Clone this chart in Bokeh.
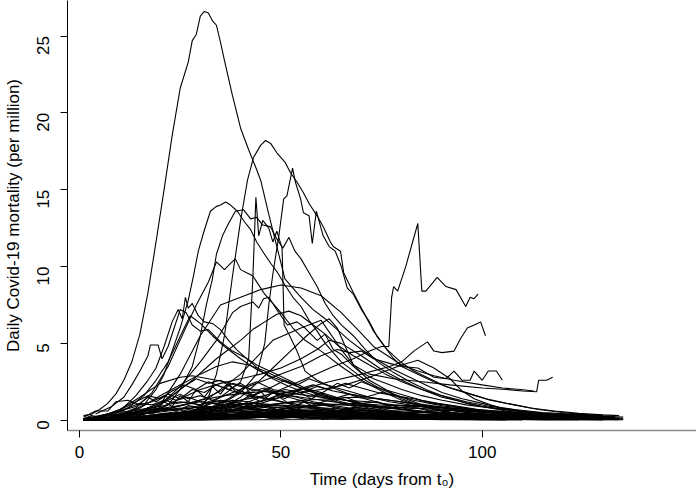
import math
from bokeh.plotting import figure
from bokeh.models import FixedTicker, Range1d, ColumnDataSource
from bokeh.embed import file_html
from bokeh.resources import INLINE

# ---- data: each series is (day, daily deaths per million) ----
curve_a = [(1,0.3),(3,0.4),(5,0.7),(7,1.1),(9,1.7),(11,2.6),(13,3.8),(15,5.6),(17,8.3),(19,11.6),(21,15.0),(23,18.5),(25,21.6),(27,23.3),(28,24.7),(29,25.1),(30,26.3),(31,26.6),(32,26.5),(33,26.0),(34,25.7),(35,24.6),(36,23.4),(38,21.1),(40,19.0),(42,17.6),(44,16.3),(45,15.6),(47,13.4),(49,11.3),(51,9.2),(53,8.6),(55,8.0),(58,7.2),(61,6.6),(64,5.9),(67,5.2),(70,4.6),(74,3.9),(78,3.3),(82,2.8),(86,2.3),(90,1.8),(95,1.4),(100,1.1),(105,0.8),(110,0.6),(116,0.4)]
curve_b = [(30,0.8),(32,1.5),(34,3.0),(36,5.5),(38,9.4),(40,13.0),(41.7,15.6),(43.2,17.1),(45,17.9),(46.2,18.2),(47.5,18.0),(49,17.4),(51,16.8),(52.4,16.1),(54,15.5),(55.6,14.8),(57,14.1),(59,13.3),(60.5,12.6),(62.3,11.6),(63,11.3),(64.8,11.0),(65.6,9.6),(68,8.3),(70.6,7.0),(73,5.8),(76.4,4.6),(79.7,3.8),(83,3.2),(87,2.7),(91,2.2),(96,1.8),(101,1.4),(106,1.1),(112,0.8),(118,0.6),(124,0.45),(130,0.35),(134,0.3)]
curve_c = [(20,0.1),(25,0.3),(30,0.6),(35,1.0),(40,1.8),(44,3.0),(46,5.0),(47,7.5),(48,9.5),(49.5,12.0),(50.7,14.4),(51.5,14.6),(52.9,16.4),(53.6,15.5),(54.9,14.4),(55.6,13.5),(57,13.3),(57.8,11.5),(58.8,13.6),(60.5,12.0),(62,11.3),(63.5,11.0),(65,10.0),(66.5,8.6),(68,8.2),(70,7.2),(72,6.4),(74,5.4),(76,4.7),(78,4.0),(80,3.5),(84,3.0),(88,2.5),(92,2.1),(97,1.7),(102,1.3),(108,1.0),(114,0.7),(120,0.5),(126,0.35)]
curve_d = [(12,0.5),(16,1.0),(19,2.0),(21,3.0),(23,4.5),(25,6.0),(27,7.8),(28.3,9.4),(29.5,11.0),(30.8,12.2),(32.5,13.6),(33.9,13.9),(35,14.0),(36.3,14.2),(37.5,14.0),(39.2,13.6),(41,12.9),(42.5,12.4),(44,11.6),(45.7,10.9),(47.5,10.2),(49.2,9.6),(51,8.8),(53,8.0),(55,7.4),(57,6.5),(59,5.8),(61,5.0),(63,4.4),(65,3.8),(68,3.2),(71,2.6),(75,2.0),(80,1.5),(85,1.0),(90,0.6),(95,0.35),(100,0.2)]
curve_e = [(18,0.5),(22,1.0),(25,2.0),(28,3.5),(30,5.5),(31.5,7.5),(33,9.2),(34,10.8),(35.5,12.0),(37,12.8),(38.7,13.6),(40.7,13.7),(42.5,13.1),(44,13.2),(45.5,12.7),(47.4,12.6),(49,11.8),(50.5,11.2),(52,11.9),(53.5,11.0),(55,10.5),(57,9.6),(59,8.7),(61,7.6),(63,6.8),(65,6.2),(68,5.5),(71,4.6),(74,3.8),(78,3.1),(82,2.5),(86,2.0),(91,1.5),(96,1.1),(102,0.8),(108,0.5),(115,0.3)]
curve_f = [(25,0.3),(30,0.8),(35,1.5),(40,2.5),(42,4.0),(43,9.0),(43.8,14.5),(44.5,12.0),(45.5,13.0),(47,12.5),(48,11.6),(49,12.3),(50.3,11.2),(50.8,6.2),(52,5.6),(54,4.5),(56,3.2),(59,2.6),(63,2.1),(68,1.6),(75,1.1),(82,0.7),(90,0.4),(98,0.2)]
curve_g = [(20,0.1),(30,0.4),(40,1.0),(50,2.0),(57,2.8),(63,3.5),(68,4.0),(72,4.5),(75,4.8),(76.8,4.8),(77.5,8.0),(78,8.7),(79,8.4),(81,10.0),(84,12.8),(85,8.4),(86,8.4),(88.8,9.3),(91,8.7),(93.5,8.5),(95.9,7.4),(97,8.0),(97.9,7.9),(99,8.2)]
curve_h = [(30,0.2),(40,0.7),(50,1.5),(55,2.0),(62,2.5),(70,3.0),(77,3.5),(80,3.8),(83,4.5),(86.4,5.1),(88,4.5),(90,4.4),(93,4.5),(94.6,5.3),(96.3,6.0),(98,6.2),(99.6,6.4),(100.8,5.5)]
curve_i = [(25,0.5),(35,1.5),(45,2.5),(55,3.5),(60,4.2),(64,4.6),(67,4.4),(70,4.5),(73,4.0),(77,3.7),(80,3.5),(84,3.4),(88,2.8),(91,2.7),(93,3.2),(95,2.6),(97,2.6),(98,3.2),(100,2.6),(101.5,3.2),(103.5,3.2),(105,2.6)]
curve_j = [(30,1.0),(40,3.0),(48,5.2),(55,6.0),(60,6.5),(65,4.6),(68,3.6),(72,3.0),(78,2.7),(85,2.5),(92,2.3),(100,2.1),(106,2.0),(110,1.9),(113.5,1.85),(114,2.6),(116,2.6),(117.5,2.8)]
curve_k = [(20,1.0),(25,3.0),(30,5.5),(35,7.5),(40,8.0),(45,8.5),(50,8.8),(55,8.6),(60,8.1),(65,7.0),(69.8,5.7),(73,4.8),(76.5,4.2),(80,3.6),(84,3.2),(88,2.9),(93,2.6),(100,2.3),(105,2.1),(109.5,2.0),(112.8,1.9)]
curve_l = [(8,0.2),(14,0.8),(18,1.8),(22,3.5),(26,5.8),(29,7.5),(32,9.0),(34,10.3),(36,9.8),(37.5,10.2),(38.7,10.5),(40,9.8),(41.5,9.6),(43,9.4),(44,9.0),(46,8.2),(48,7.6),(50,7.0),(53,6.0),(56,5.2),(60,4.5),(65,3.5),(70,2.6),(75,1.9),(80,1.3),(85,0.9),(90,0.6),(95,0.4)]
curve_m = [(15,0.3),(20,1.0),(25,2.2),(30,3.8),(34,5.2),(38,7.0),(40,7.4),(43,7.7),(44.5,7.3),(45.7,7.9),(47,8.0),(49,7.2),(51.6,6.2),(54,6.4),(56,6.0),(59,5.2),(61,5.6),(63,4.6),(65,4.3),(68,3.5),(72,2.6),(76,2.0),(80,1.4),(85,0.9),(90,0.6),(96,0.4),(102,0.25)]
curve_n = [(5,0.1),(10,0.6),(14,1.6),(17,2.6),(19,3.4),(21,4.8),(23,6.4),(24.5,7.2),(25.5,6.6),(26.3,8.0),(27,7.3),(28,7.6),(29.5,6.8),(31,6.4),(33,6.3),(35,5.9),(37,5.2),(39,4.6),(42,3.9),(45,3.2),(48,2.7),(52,2.2),(56,1.8),(60,1.5),(65,1.1),(70,0.8),(75,0.55),(80,0.4),(88,0.2)]
curve_o = [(4,0.4),(8,0.9),(11,1.5),(13,2.3),(15,3.2),(17,4.2),(17.6,4.9),(19.5,4.9),(20.5,4.0),(22,4.8),(23.5,6.0),(25,7.2),(26.5,7.0),(28,6.2),(30,5.8),(32,5.9),(35,5.1),(38,4.5),(41,4.1),(44,3.6),(48,3.1),(52,2.6),(56,2.1),(60,1.8),(65,1.4),(70,1.0),(76,0.7),(82,0.45),(90,0.25)]
curve_p = [(15,0.3),(20,0.8),(25,1.4),(30,2.0),(35,2.4),(40,2.7),(45,3.0),(50,3.4),(55,4.0),(59,4.6),(62,5.2),(65,5.0),(70,4.2),(75,3.3),(80,2.6),(85,2.0),(90,1.5),(95,1.2),(100,0.9),(106,0.7),(112,0.5),(118,0.4),(124,0.35),(130,0.3)]
curve_q = [(10,0.3),(15,0.8),(20,1.6),(25,2.3),(30,3.0),(34,3.5),(38,3.8),(42,3.6),(46,3.2),(50,2.7),(55,2.1),(60,1.6),(65,1.2),(70,0.9),(76,0.6),(83,0.4),(90,0.25)]
curve_r = [(5,0.2),(10,0.7),(15,1.5),(20,2.4),(25,2.8),(28,2.9),(32,2.7),(36,2.5),(40,2.2),(45,1.9),(50,1.7),(55,1.5),(60,1.3),(66,1.1),(72,0.9),(80,0.7),(88,0.5),(96,0.35),(104,0.25)]
curve_s = [(20,0.3),(30,0.6),(40,1.0),(50,1.5),(55,1.8),(60,2.0),(66,2.3),(72,2.8),(76,3.2),(80,3.6),(84,3.9),(88,3.4),(92,2.7),(95,1.9),(98,1.4),(102,1.0),(106,0.7),(110,0.5)]
curve_t = [(5,0.1),(10,0.3),(15,0.6),(20,1.1),(24,1.8),(28,2.6),(31,3.3),(34,4.0),(37,4.6),(40,5.2),(43,5.9),(46,6.4),(49,6.9),(52,7.1),(55,6.8),(58,6.2),(61,5.6),(64,4.9),(68,4.2),(72,3.6),(76,3.0),(80,2.5),(85,2.0),(90,1.6),(96,1.2),(102,0.9),(108,0.7),(115,0.5),(122,0.4),(130,0.3)]
curve_v = [(8,0.3),(12,0.8),(16,1.6),(19,2.6),(22,3.8),(24,4.9),(26,6.0),(27.5,6.8),(30,6.3),(33,5.5),(36,4.8),(40,4.0),(44,3.3),(48,2.8),(52,2.4),(55,2.1),(60,1.7),(66,1.3),(72,1.0),(80,0.7),(88,0.45),(96,0.3)]
curve_z = [(20,0.1),(30,0.4),(36,0.9),(40,1.5),(44,2.4),(48,3.4),(52,4.4),(56,5.4),(60,6.3),(62,6.6),(64,6.0),(66,4.8),(68,3.6),(70,3.1),(73,2.7),(76,2.4),(80,2.0),(85,1.6),(90,1.3),(96,1.0),(102,0.8),(108,0.6),(115,0.45),(122,0.35),(130,0.25)]

small_01 = [(1,0.1),(6,0.3),(10,0.6),(14,0.9),(17,1.5),(19,1.2),(22,1.7),(25,1.4),(28,2.0),(31,1.8),(34,2.3),(37,2.0),(40,2.4),(43,1.9),(46,2.1),(50,1.7),(54,1.5),(58,1.2),(62,1.0),(67,0.8),(72,0.6),(78,0.4),(85,0.3),(92,0.2),(100,0.1)]
small_02 = [(1,0.2),(4,0.6),(7,0.6),(9,1.2),(12,1.3),(15,1.0),(18,1.2),(21,1.6),(24,1.3),(27,1.5),(30,1.2),(34,1.1),(38,0.9),(42,0.8),(47,0.6),(52,0.5),(58,0.4),(65,0.3),(72,0.2),(80,0.15),(90,0.1)]
small_03 = [(1,0.0),(8,0.1),(14,0.3),(20,0.6),(26,1.0),(31,1.4),(35,1.9),(38,2.4),(41,2.2),(44,2.5),(48,2.0),(52,1.8),(56,2.1),(60,1.6),(64,1.4),(68,1.2),(73,0.9),(78,0.8),(84,0.6),(90,0.5),(97,0.4),(104,0.3),(112,0.2),(120,0.15)]
small_04 = [(2,0.0),(10,0.2),(18,0.5),(24,0.9),(30,1.3),(36,1.6),(42,1.8),(48,1.9),(54,1.7),(60,1.5),(66,1.3),(72,1.2),(78,1.0),(84,0.9),(90,0.8),(96,0.6),(102,0.5),(108,0.4),(115,0.3),(124,0.2),(133,0.15)]
small_05 = [(1,0.1),(5,0.2),(10,0.4),(15,0.7),(20,0.9),(25,1.2),(30,1.0),(35,1.3),(40,1.1),(45,0.9),(50,0.8),(55,0.6),(60,0.5),(70,0.4),(80,0.3),(90,0.2),(100,0.15)]
small_06 = [(1,0.0),(12,0.1),(20,0.3),(28,0.6),(34,0.9),(40,1.3),(46,1.6),(51,2.0),(55,1.8),(59,2.2),(63,1.9),(67,1.7),(72,1.5),(77,1.3),(82,1.1),(87,0.9),(93,0.7),(99,0.6),(106,0.5),(113,0.4),(120,0.3),(128,0.25),(135,0.2)]
small_07 = [(1,0.0),(15,0.1),(25,0.2),(32,0.4),(38,0.6),(44,0.9),(50,1.1),(56,1.3),(62,1.4),(68,1.5),(74,1.4),(80,1.2),(86,1.0),(92,0.8),(98,0.6),(104,0.5),(110,0.4),(116,0.3),(124,0.2)]
small_08 = [(1,0.0),(6,0.1),(12,0.3),(16,0.6),(20,1.0),(23,1.6),(26,2.2),(29,2.7),(32,2.4),(35,2.6),(38,2.1),(41,1.8),(45,1.5),(49,1.3),(53,1.0),(58,0.8),(64,0.6),(70,0.4),(78,0.3),(86,0.2),(95,0.1)]
small_09 = [(2,0.0),(10,0.1),(18,0.3),(25,0.5),(31,0.8),(37,1.0),(43,1.1),(49,1.0),(55,0.9),(61,0.8),(67,0.7),(73,0.6),(79,0.5),(85,0.5),(92,0.4),(99,0.3),(106,0.25),(114,0.2)]
small_10 = [(1,0.1),(4,0.2),(8,0.5),(11,0.8),(14,1.2),(17,1.6),(20,1.4),(23,1.9),(26,2.3),(29,2.0),(32,2.5),(35,2.2),(38,1.9),(42,1.6),(46,1.4),(50,1.2),(55,1.0),(60,0.8),(66,0.6),(72,0.5),(80,0.35),(88,0.25),(97,0.15)]
small_11 = [(1,0.0),(20,0.05),(30,0.2),(36,0.5),(41,0.9),(46,1.3),(50,1.7),(54,2.0),(58,2.3),(62,2.0),(66,2.4),(70,2.1),(74,1.8),(78,1.6),(83,1.4),(88,1.1),(93,0.9),(98,0.7),(104,0.5),(110,0.4),(118,0.3),(126,0.2)]
small_12 = [(1,0.0),(8,0.05),(15,0.15),(22,0.3),(29,0.45),(36,0.6),(43,0.7),(50,0.65),(57,0.6),(64,0.5),(71,0.45),(78,0.4),(85,0.3),(92,0.25),(100,0.2),(108,0.15),(116,0.1)]
small_13 = [(1,0.1),(7,0.2),(13,0.35),(19,0.5),(25,0.7),(31,0.9),(37,0.8),(43,0.95),(49,0.85),(55,0.7),(61,0.6),(67,0.5),(73,0.4),(80,0.35),(88,0.3),(96,0.2),(105,0.15)]
small_14 = [(1,0.0),(10,0.05),(20,0.1),(30,0.2),(40,0.35),(50,0.5),(60,0.6),(70,0.65),(80,0.6),(90,0.5),(100,0.4),(110,0.3),(120,0.2),(130,0.15),(135,0.1)]
small_15 = [(1,0.05),(10,0.15),(20,0.3),(30,0.45),(40,0.5),(50,0.45),(60,0.4),(70,0.3),(80,0.25),(90,0.2),(100,0.15),(110,0.1)]
small_16 = [(1,0.0),(5,0.05),(10,0.1),(15,0.2),(20,0.3),(25,0.35),(30,0.3),(35,0.4),(40,0.35),(45,0.3),(50,0.25),(60,0.2),(70,0.15),(80,0.1),(90,0.08),(100,0.05)]
small_17 = [(1,0.0),(12,0.05),(24,0.1),(36,0.2),(48,0.3),(60,0.4),(72,0.45),(84,0.4),(96,0.35),(108,0.3),(120,0.2),(130,0.1)]
small_18 = [(1,0.1),(6,0.25),(11,0.4),(16,0.6),(21,0.8),(26,1.0),(30,1.2),(34,1.1),(38,1.3),(42,1.2),(46,1.0),(51,0.9),(56,0.8),(61,0.7),(67,0.55),(74,0.45),(81,0.35),(89,0.25),(97,0.2),(106,0.15)]
small_19 = [(1,0.0),(9,0.1),(17,0.2),(25,0.4),(33,0.6),(41,0.8),(47,1.0),(53,1.2),(59,1.1),(65,1.0),(71,0.9),(77,0.85),(83,0.8),(89,0.7),(95,0.6),(101,0.5),(107,0.4),(113,0.35),(120,0.3),(127,0.25),(133,0.2)]
small_20 = [(1,0.0),(14,0.05),(22,0.2),(28,0.5),(33,0.9),(37,1.4),(40,1.9),(43,1.6),(46,2.0),(49,1.7),(52,1.5),(56,1.2),(60,1.0),(65,0.8),(70,0.6),(76,0.5),(83,0.35),(90,0.25),(98,0.2)]
small_21 = [(2,0.0),(10,0.1),(18,0.2),(26,0.3),(34,0.35),(42,0.4),(50,0.4),(58,0.35),(66,0.3),(74,0.25),(82,0.2),(90,0.15),(98,0.1),(106,0.08)]
small_22 = [(1,0.05),(8,0.1),(16,0.2),(24,0.25),(32,0.3),(40,0.25),(48,0.2),(56,0.18),(64,0.15),(72,0.12),(80,0.1),(90,0.08),(100,0.05)]
small_23 = [(1,0.0),(20,0.02),(35,0.1),(45,0.3),(52,0.6),(58,1.0),(63,1.4),(67,1.7),(71,1.5),(75,1.8),(79,1.6),(83,1.3),(87,1.1),(91,0.9),(95,0.8),(100,0.6),(105,0.5),(110,0.4),(116,0.3),(122,0.2)]
small_24 = [(1,0.0),(6,0.15),(11,0.35),(15,0.6),(19,1.0),(22,1.3),(25,1.7),(27,1.4),(30,1.6),(33,1.3),(37,1.1),(41,0.9),(46,0.7),(51,0.55),(57,0.45),(63,0.35),(70,0.25),(78,0.2),(86,0.1)]
small_25 = [(1,0.0),(16,0.05),(26,0.15),(34,0.3),(42,0.5),(50,0.7),(56,0.9),(62,1.0),(68,1.1),(74,1.0),(80,0.95),(86,0.9),(92,0.8),(98,0.7),(104,0.6),(110,0.5),(116,0.4),(122,0.35),(128,0.3),(133,0.25)]
small_26 = [(1,0.0),(4,0.1),(8,0.2),(12,0.4),(16,0.6),(20,0.8),(24,0.7),(28,0.9),(32,0.75),(36,0.6),(42,0.5),(48,0.4),(56,0.3),(64,0.25),(74,0.2),(84,0.15),(95,0.1)]
small_27 = [(1,0.0),(10,0.05),(18,0.1),(26,0.2),(34,0.3),(42,0.45),(50,0.55),(58,0.5),(66,0.45),(74,0.4),(82,0.35),(90,0.3),(98,0.25),(106,0.2),(114,0.15),(122,0.1),(130,0.08)]
small_28 = [(1,0.0),(25,0.05),(35,0.15),(45,0.4),(52,0.8),(57,1.3),(61,1.9),(64,2.4),(67,2.1),(70,2.5),(73,2.2),(77,1.9),(81,1.6),(85,1.3),(89,1.1),(94,0.9),(99,0.7),(105,0.55),(111,0.4),(118,0.3),(125,0.2)]
small_29 = [(1,0.1),(5,0.3),(9,0.5),(12,0.8),(15,1.1),(18,1.0),(21,1.3),(24,1.1),(27,1.2),(31,0.9),(35,0.8),(40,0.6),(45,0.5),(51,0.4),(58,0.3),(66,0.2),(75,0.15),(85,0.1)]
small_30 = [(1,0.0),(10,0.08),(20,0.15),(30,0.25),(40,0.3),(50,0.35),(60,0.3),(70,0.28),(80,0.25),(90,0.2),(100,0.18),(110,0.15),(120,0.12),(130,0.1),(135,0.08)]
small_31 = [(1,0.0),(18,0.1),(26,0.3),(32,0.6),(37,1.0),(41,1.4),(45,1.8),(48,2.2),(51,2.6),(54,2.3),(57,2.7),(60,2.4),(64,2.1),(68,1.8),(72,1.5),(77,1.2),(82,1.0),(88,0.8),(94,0.6),(101,0.5),(108,0.4),(116,0.3),(124,0.2),(131,0.15)]
small_32 = [(1,0.05),(5,0.1),(9,0.2),(13,0.35),(17,0.5),(21,0.65),(25,0.8),(29,0.7),(33,0.85),(37,0.7),(42,0.6),(47,0.5),(53,0.4),(60,0.3),(68,0.25),(77,0.2),(87,0.15),(98,0.1)]
small_33 = [(1,0.0),(30,0.02),(40,0.1),(50,0.25),(60,0.4),(70,0.6),(78,0.8),(84,0.9),(90,0.85),(96,0.7),(102,0.55),(108,0.45),(114,0.35),(120,0.28),(127,0.2),(134,0.15)]
small_34 = [(1,0.0),(7,0.05),(14,0.12),(21,0.2),(28,0.28),(35,0.35),(42,0.3),(49,0.25),(56,0.22),(63,0.2),(70,0.18),(77,0.15),(84,0.12),(91,0.1),(98,0.08),(105,0.05)]

low_01 = [(1,0.0),(3,0.1),(5,0.0),(8,0.15),(11,0.05),(14,0.2),(17,0.1),(20,0.25),(23,0.15),(26,0.3),(29,0.2),(32,0.35),(35,0.2),(38,0.3),(41,0.15),(44,0.25),(48,0.1),(52,0.2),(56,0.1),(60,0.15),(65,0.05),(70,0.1),(76,0.05),(82,0.08),(90,0.03),(98,0.05),(106,0.02)]
low_02 = [(1,0.05),(4,0.0),(7,0.1),(10,0.05),(13,0.15),(16,0.3),(19,0.2),(22,0.4),(25,0.3),(28,0.5),(31,0.35),(34,0.45),(37,0.3),(40,0.4),(43,0.25),(46,0.35),(50,0.2),(54,0.3),(58,0.15),(62,0.2),(67,0.1),(72,0.15),(78,0.08),(85,0.1),(92,0.05),(100,0.04),(110,0.02)]
low_03 = [(2,0.0),(6,0.05),(10,0.0),(14,0.1),(18,0.05),(22,0.15),(26,0.1),(30,0.2),(34,0.15),(38,0.25),(42,0.2),(46,0.3),(50,0.2),(54,0.25),(58,0.15),(62,0.2),(66,0.1),(70,0.15),(75,0.1),(80,0.12),(86,0.06),(92,0.08),(100,0.04),(108,0.05),(116,0.02),(124,0.03)]
low_04 = [(1,0.0),(5,0.1),(9,0.2),(13,0.1),(17,0.3),(21,0.45),(25,0.35),(29,0.6),(33,0.5),(37,0.7),(41,0.55),(45,0.65),(49,0.45),(53,0.55),(57,0.4),(61,0.45),(65,0.3),(70,0.35),(75,0.25),(80,0.28),(86,0.18),(92,0.2),(99,0.12),(106,0.1),(114,0.06)]
low_05 = [(1,0.0),(10,0.02),(20,0.05),(25,0.1),(30,0.05),(35,0.15),(40,0.1),(45,0.2),(50,0.12),(55,0.22),(60,0.15),(65,0.25),(70,0.18),(75,0.2),(80,0.12),(85,0.15),(90,0.08),(95,0.1),(100,0.05),(110,0.06),(120,0.03),(130,0.02)]
low_06 = [(1,0.1),(3,0.3),(5,0.2),(7,0.4),(9,0.3),(11,0.6),(13,0.45),(15,0.7),(17,0.5),(19,0.8),(21,0.6),(24,0.75),(27,0.5),(30,0.6),(33,0.4),(36,0.45),(40,0.3),(44,0.35),(48,0.2),(53,0.25),(58,0.15),(64,0.18),(70,0.1),(78,0.08),(86,0.05)]
low_07 = [(1,0.0),(8,0.05),(16,0.1),(22,0.2),(27,0.4),(31,0.6),(34,0.9),(37,0.7),(40,1.1),(43,0.8),(46,1.0),(49,0.7),(52,0.85),(55,0.6),(59,0.7),(63,0.45),(67,0.55),(72,0.35),(77,0.4),(83,0.25),(89,0.3),(96,0.15),(104,0.12),(112,0.08)]
low_08 = [(1,0.0),(12,0.03),(24,0.08),(30,0.15),(36,0.1),(42,0.2),(48,0.3),(54,0.25),(60,0.4),(66,0.35),(72,0.45),(78,0.3),(84,0.38),(90,0.25),(96,0.3),(102,0.18),(108,0.2),(114,0.12),(120,0.1),(127,0.06),(134,0.04)]
low_09 = [(1,0.0),(4,0.05),(8,0.12),(12,0.25),(16,0.2),(20,0.4),(24,0.55),(28,0.45),(32,0.7),(36,0.6),(40,0.8),(44,0.65),(48,0.75),(52,0.55),(56,0.6),(60,0.45),(65,0.5),(70,0.35),(75,0.4),(81,0.28),(87,0.3),(94,0.2),(101,0.15),(109,0.1),(118,0.06)]
low_10 = [(1,0.0),(14,0.02),(26,0.05),(36,0.1),(44,0.2),(50,0.35),(55,0.5),(60,0.7),(64,0.6),(68,0.85),(72,0.75),(76,0.9),(80,0.7),(84,0.8),(88,0.6),(92,0.65),(96,0.5),(100,0.55),(105,0.4),(110,0.35),(116,0.28),(122,0.22),(128,0.15),(134,0.1)]
low_11 = [(1,0.0),(6,0.1),(11,0.25),(15,0.5),(18,0.4),(21,0.75),(24,0.6),(27,0.95),(30,0.8),(33,1.1),(36,0.85),(39,1.0),(42,0.75),(46,0.85),(50,0.6),(54,0.7),(58,0.5),(63,0.55),(68,0.4),(74,0.35),(80,0.25),(87,0.2),(95,0.12),(103,0.08)]
low_12 = [(1,0.0),(20,0.01),(40,0.03),(60,0.05),(70,0.1),(80,0.08),(90,0.12),(100,0.1),(110,0.08),(120,0.06),(130,0.04),(135,0.03)]
jag_01 = [(10,0.2),(13,0.5),(15,0.3),(17,0.8),(19,0.6),(21,1.2),(23,0.9),(25,1.6),(27,1.2),(29,2.0),(31,1.5),(33,2.2),(35,1.7),(37,2.4),(39,1.8),(41,2.2),(43,1.6),(45,1.9),(47,1.3),(49,1.6),(52,1.1),(55,1.3),(58,0.9),(61,1.0),(65,0.7),(69,0.8),(74,0.5),(79,0.55),(85,0.35),(91,0.3),(98,0.2)]
jag_02 = [(20,0.2),(24,0.5),(27,0.4),(30,0.9),(33,0.7),(36,1.3),(39,1.0),(42,1.6),(45,1.2),(48,1.8),(51,1.4),(54,1.9),(57,1.5),(60,1.8),(63,1.3),(66,1.5),(70,1.1),(74,1.2),(78,0.8),(82,0.9),(87,0.6),(92,0.65),(98,0.45),(104,0.4),(111,0.28),(118,0.2)]

x_ticks = [0, 50, 100]
y_ticks = [0, 5, 10, 15, 20, 25]
x_title = "Time (days from t\u2080)"
y_title = "Daily Covid-19 mortality (per million)"

series = [curve_a, curve_b, curve_c, curve_d, curve_e, curve_f, curve_g, curve_h,
          curve_i, curve_j, curve_k, curve_l, curve_m, curve_n, curve_o, curve_p,
          curve_q, curve_r, curve_s, curve_t, curve_v, curve_z,
          small_01, small_02, small_03, small_04, small_05, small_06, small_07,
          small_08, small_09, small_10, small_11, small_12, small_13, small_14,
          small_15, small_16, small_17, small_18, small_19, small_20, small_21,
          small_22, small_23, small_24, small_25, small_26, small_27, small_28,
          small_29, small_30, small_31, small_32, small_33, small_34,
          low_01, low_02, low_03, low_04, low_05, low_06, low_07, low_08,
          low_09, low_10, low_11, low_12, jag_01, jag_02]

FONT = "Liberation Sans"

p = figure(width=696, height=491, x_range=Range1d(-2.98, 153.2), y_range=Range1d(-0.667, 27.31),
           output_backend="svg", toolbar_location=None,
           min_border_left=67, min_border_right=0, min_border_top=0, min_border_bottom=59)

src = ColumnDataSource(dict(xs=[[d for d, v in s] for s in series],
                            ys=[[v for d, v in s] for s in series]))
p.multi_line(xs="xs", ys="ys", source=src, line_color="black", line_width=1.1)

p.grid.visible = False
p.outline_line_color = None
p.background_fill_color = "white"
p.border_fill_color = "white"

p.xaxis.ticker = FixedTicker(ticks=x_ticks)
p.yaxis.ticker = FixedTicker(ticks=y_ticks)
for ax in (p.xaxis[0], p.yaxis[0]):
    ax.minor_tick_line_color = None
    ax.major_tick_in = 0
    ax.major_tick_out = 7
    ax.major_tick_line_color = "black"
    ax.major_label_text_font = FONT
    ax.major_label_text_font_size = "17px"
    ax.major_label_text_color = "black"
    ax.axis_label_text_font = FONT
    ax.axis_label_text_font_size = "17px"
    ax.axis_label_text_font_style = "normal"
    ax.axis_label_text_color = "black"

p.xaxis.axis_line_color = "#8a8a8a"
p.xaxis.axis_line_width = 1.5
p.yaxis.axis_line_color = "black"
p.yaxis.axis_line_width = 1
p.yaxis.major_label_orientation = math.pi / 2
p.xaxis.major_label_standoff = 8
p.yaxis.major_label_standoff = 17
p.xaxis.axis_label = x_title
p.yaxis.axis_label = y_title
p.xaxis.axis_label_standoff = 9
p.yaxis.axis_label_standoff = 6

open("out.html", "w").write(file_html(p, INLINE))
